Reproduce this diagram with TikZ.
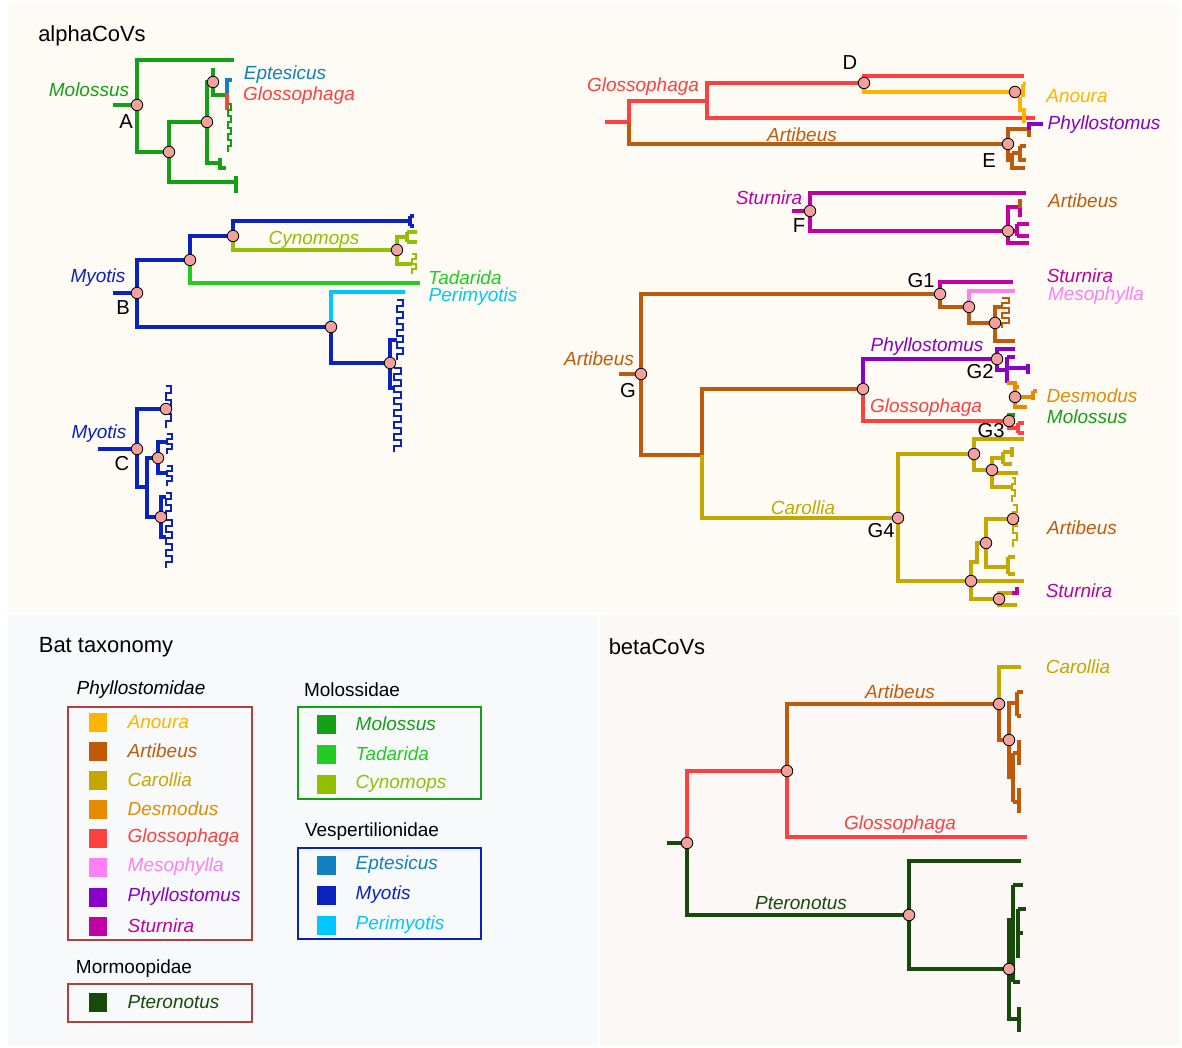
\documentclass[tikz,border=0pt]{standalone}
\usepackage{fontspec}
\setmainfont{Liberation Sans}
\usetikzlibrary{positioning}

\definecolor{anou}{HTML}{FFB400}
\definecolor{arti}{HTML}{C05A0A}
\definecolor{caro}{HTML}{C4A800}
\definecolor{desm}{HTML}{E88A00}
\definecolor{glos}{HTML}{FF4040}
\definecolor{meso}{HTML}{FF80F4}
\definecolor{phyl}{HTML}{8A00C8}
\definecolor{stur}{HTML}{C000A4}
\definecolor{pter}{HTML}{184A0C}
\definecolor{molo}{HTML}{14A014}
\definecolor{tada}{HTML}{22CC22}
\definecolor{cyno}{HTML}{92C000}
\definecolor{epte}{HTML}{1280C0}
\definecolor{myot}{HTML}{0A22C0}
\definecolor{peri}{HTML}{00C8FF}
\definecolor{dotc}{HTML}{F4A09C}
\definecolor{panA}{HTML}{FDFBF4}
\definecolor{panB}{HTML}{F8F9FB}
\definecolor{panC}{HTML}{FBF8F5}
\definecolor{phybox}{HTML}{B04040}

% square-wave tip comb: colour, x, y, width, count, step
\newcommand{\combtip}[6]{%
  \draw[cbr,#1] (#2,#3) \foreach \k in {1,...,#5} { -- ++(#4,0) -- ++(0,#6) -- ++(-#4,0) -- ++(0,#6) };}

\begin{document}
\begin{tikzpicture}[x=0.02cm, y=-0.02cm,
    br/.style={line width=1.95pt},
    cbr/.style={line width=1.6pt},
    dot/.style={circle, draw, fill=dotc, inner sep=0pt, minimum size=2.3mm, line width=0.5pt},
    lab/.style={font=\fontsize{10.8}{13}\selectfont\itshape},
    tag/.style={font=\fontsize{11.5}{13}\selectfont},
    ttl/.style={font=\fontsize{12.5}{15}\selectfont},
    sq/.style={rectangle, inner sep=0pt, minimum size=3.8mm},
    leg/.style={font=\fontsize{10.8}{13}\selectfont\itshape, inner sep=0pt},
    box/.style={line width=0.6pt}]
\useasboundingbox (0,0) rectangle (1182,1047);

% Panels
\fill[panA] (8,4) rectangle (1180,612);
\fill[panB] (8,615) rectangle (598,1045);
\fill[panC] (600,615) rectangle (1180,1045);
\node[ttl] (tA) at (92,36) {alphaCoVs};
\node[ttl] (tB) at (106,647) {Bat taxonomy};
\node[ttl] (tC) at (657,647) {betaCoVs};

% Tree A
\coordinate (A0) at (113,105);
\coordinate (A) at (137,105);
\coordinate (a1) at (169,152);
\coordinate (a2) at (207,122);
\coordinate (a3) at (213,82);
\coordinate (a4) at (227,95);
\coordinate (ta1) at (234,60);
\coordinate (ta2) at (236,182);
\coordinate (ta3) at (220,163);
\draw[br,molo] (A0) -- (A) |- (ta1);
\draw[br,molo] (A) |- (a1);
\draw[br,molo] (a1) |- (a2);
\draw[br,molo] (a1) |- (ta2);
\draw[br,molo] (a2) |- (a3);
\draw[br,molo] (a2) |- (ta3);
\draw[br,molo] (a3) |- (a4);
\draw[br,molo] (a3) -- ++(0,-14);
\draw[br,epte] (232,80) -| (227,93);
\draw[br,glos] (227,93) -- (227,110);
\combtip{molo}{228}{104}{3}{4}{6}
\draw[br,molo] (ta2) ++(0,-6) -- ++(0,17);
\draw[br,molo] (ta3) ++(0,-5) -- ++(0,10) -- ++(6,0);
\node[lab,molo] (lA1) at (89,90) {Molossus};
\node[tag] (lA) at (126,122) {A};
\node[lab,epte] (lA2) at (285,75) {Eptesicus};
\node[lab,glos] (lA3) at (299,96) {Glossophaga};

% Tree B
\coordinate (B0) at (113,293);
\coordinate (B) at (137,293);
\coordinate (b1) at (190,260);
\coordinate (b2) at (233,236);
\coordinate (b3) at (397,250);
\coordinate (b4) at (331,327);
\coordinate (b5) at (390,363);
\coordinate (tb1) at (410,221);
\coordinate (tb2) at (420,283);
\coordinate (tb3) at (405,292);
\draw[br,myot] (B0) -- (B) |- (b1);
\draw[br,myot] (B) |- (b4);
\draw[br,myot] (b1) |- (b2);
\draw[br,tada] (b1) |- (tb2);
\draw[br,myot] (b2) |- (tb1);
\draw[br,cyno] (b2) |- (b3);
\draw[br,peri] (b4) |- (tb3);
\draw[br,myot] (b4) |- (b5);
\draw[br,myot] (410,216) -- (410,226) (410,216) -- (414,216) (410,226) -- (414,226);
\draw[br,cyno] (b3) |- (407,237);
\draw[br,cyno] (b3) |- (412,264);
\draw[br,cyno] (407,232) -- (407,242) (407,232) -- (417,232) (407,242) -- (417,242);
\combtip{cyno}{412}{254}{4}{2}{5}
\draw[br,myot] (b5) |- (397,340);
\draw[br,myot] (b5) |- (394,388);
\combtip{myot}{397}{300}{6}{5}{6}
\combtip{myot}{394}{368}{7}{7}{6}
\node[lab,myot] (lB1) at (98,278) {Myotis};
\node[tag] (lB) at (123,308) {B};
\node[lab,cyno] (lB2) at (314,240) {Cynomops};
\node[lab,tada] (lB3) at (465,278) {Tadarida};
\node[lab,peri] (lB4) at (473,297) {Perimyotis};

% Tree C
\coordinate (C0) at (98,449);
\coordinate (C) at (137,449);
\coordinate (c1) at (166,409);
\coordinate (c2) at (147,487);
\coordinate (c3) at (158,458);
\coordinate (c4) at (161,517);
\draw[br,myot] (C0) -- (C) |- (c1);
\draw[br,myot] (C) |- (c2);
\draw[br,myot] (c2) |- (c3);
\draw[br,myot] (c2) |- (c4);
\combtip{myot}{166}{386}{5}{3}{7}
\draw[br,myot] (c3) |- (167,442);
\draw[br,myot] (c3) |- (167,473);
\combtip{myot}{167}{434}{5}{2}{5}
\combtip{myot}{167}{466}{5}{2}{5}
\draw[br,myot] (c4) |- (166,497);
\draw[br,myot] (c4) |- (166,537);
\combtip{myot}{166}{493}{5}{2}{6}
\combtip{myot}{166}{520}{6}{4}{6}
\node[lab,myot] (lC1) at (99,434) {Myotis};
\node[tag] (lC) at (122,464) {C};

% Tree D / E
\coordinate (D0) at (605,122);
\coordinate (d0) at (629,122);
\coordinate (d1) at (707,101);
\coordinate (D) at (864,83);
\coordinate (d2) at (1015,92);
\coordinate (E) at (1008,144);
\coordinate (td1) at (1035,118);
\coordinate (td2) at (1024,76);
\draw[br,glos] (D0) -- (d0) |- (d1);
\draw[br,arti] (d0) |- (E);
\draw[br,glos] (d1) |- (D);
\draw[br,glos] (d1) |- (td1);
\draw[br,glos] (D) |- (td2);
\draw[br,anou] (D) |- (d2);
\draw[br,anou] (d2) -- (1023,92) (1023,84) -- (1023,97) (1023,84) -- (1026,84)
  (1020,97) -- (1020,110) -- (1024,110) -- (1024,123);
\draw[br,arti] (E) |- (1029,129) -- (1029,137);
\draw[br,phyl] (1029,130) -- (1029,124) -- (1043,124);
\draw[br,arti] (E) |- (1012,160);
\draw[br,arti] (1012,153) -- (1012,168) -- (1025,168) (1012,153) -- (1020,153)
  (1020,146) -- (1020,160) -- (1026,160) (1020,146) -- (1026,146);
\node[tag] (lD) at (850,63) {D};
\node[lab,glos] (lD1) at (643,87) {Glossophaga};
\node[lab,anou] (lD2) at (1077,96) {Anoura};
\node[lab,arti] (lD3) at (802,135) {Artibeus};
\node[lab,phyl] (lD4) at (1104,125) {Phyllostomus};
\node[tag] (lE) at (989,161) {E};

% Tree F
\coordinate (F0) at (792,211);
\coordinate (F) at (810,211);
\coordinate (f1) at (1008,231);
\coordinate (tf1) at (1026,193);
\draw[br,stur] (F0) -- (F) |- (tf1);
\draw[br,stur] (F) |- (f1);
\draw[br,stur] (f1) |- (1013,207);
\draw[br,stur] (1013,207) -| (1020,217);
\draw[br,arti] (1020,199) -- (1020,208);
\draw[br,stur] (f1) |- (1029,243);
\draw[br,stur] (f1) -- (1017,231) (1017,224) -- (1017,236) (1017,224) -- (1029,224) (1017,236) -- (1029,236);
\node[lab,stur] (lF1) at (769,198) {Sturnira};
\node[tag] (lF) at (799,226) {F};
\node[lab,arti] (lF2) at (1083,201) {Artibeus};

% Tree G
\coordinate (G0) at (619,374);
\coordinate (G) at (641,374);
\coordinate (g0) at (702,455);
\coordinate (G1) at (940,294);
\coordinate (g11) at (969,307);
\coordinate (g12) at (995,323);
\coordinate (g2) at (863,389);
\coordinate (G2) at (997,359);
\coordinate (g21) at (1015,397);
\coordinate (G3) at (1009,421);
\coordinate (G4) at (898,518);
\coordinate (g41) at (974,454);
\coordinate (g42) at (992,470);
\coordinate (g43) at (971,581);
\coordinate (g44) at (986,543);
\coordinate (g45) at (1013,519);
\coordinate (g46) at (999,599);
\coordinate (tg1) at (1013,282);
\coordinate (tg2) at (1015,291);
\coordinate (tg3) at (1015,341);
\coordinate (tg4) at (1002,307);
\coordinate (tg5) at (1015,349);
\coordinate (tg6) at (1024,439);
\coordinate (tg7) at (1024,581);
\draw[br,arti] (G0) -- (G) |- (G1);
\draw[br,arti] (G) |- (g0);
\draw[br,arti] (g0) |- (g2);
\draw[br,caro] (g0) |- (G4);
\draw[br,stur] (G1) |- (tg1);
\draw[br,arti] (G1) |- (g11);
\draw[br,meso] (g11) |- (tg2);
\draw[br,arti] (g11) |- (g12);
\draw[br,arti] (g12) |- (tg4);
\draw[br,arti] (g12) |- (tg3);
\combtip{arti}{1002}{298}{7}{3}{5}
\draw[br,phyl] (g2) |- (G2);
\draw[br,glos] (g2) |- (G3);
\draw[br,phyl] (G2) |- (tg5);
\draw[br,phyl] (G2) |- (1007,370) (1007,357) -- (1007,383) (1007,357) -- (1015,357)
  (1007,368) -- (1028,368) (1028,364) -- (1028,374);
\draw[br,desm] (1007,383) -| (g21);
\draw[br,desm] (g21) |- (1019,387);
\draw[br,desm] (g21) |- (1027,407);
\draw[br,desm] (g21) -- (1033,397) (1033,391) -- (1033,400) (1033,391) -- (1037,391);
\draw[br,molo] (G3) -- ++(0,-6) -- ++(6,0);
\draw[br,glos] (G3) |- (1018,428) (1018,423) -- (1018,433) (1018,423) -- (1024,423) (1018,433) -- (1024,433);
\draw[br,caro] (G4) |- (g41);
\draw[br,caro] (G4) |- (g43);
\draw[br,caro] (g41) |- (tg6);
\draw[br,caro] (g41) |- (g42);
\draw[br,caro] (g42) |- (1003,458) (1003,452) -- (1003,464) (1003,452) -- (1012,452)
  (1003,464) -- (1012,464) (1012,447) -- (1012,457);
\draw[br,caro] (g42) |- (1018,473);
\draw[br,caro] (g42) |- (1012,487);
\combtip{caro}{1012}{478}{3}{2}{6}
\draw[br,caro] (g43) |- (977,562) |- (g44);
\draw[br,caro] (g43) |- (tg7);
\draw[br,caro] (g43) |- (g46);
\draw[br,caro] (g44) |- (g45);
\draw[br,caro] (g44) |- (1008,567) (1008,557) -- (1008,574) (1008,557) -- (1015,557) (1008,574) -- (1015,574);
\combtip{caro}{1013}{505}{4}{3}{7}
\draw[br,caro] (g46) |- (1012,593);
\draw[br,stur] (1012,593) -- (1017,593) -- (1017,587);
\draw[br,caro] (g46) |- (1017,605);
\node[lab,arti] (lG1) at (599,359) {Artibeus};
\node[tag] (lG) at (628,391) {G};
\node[tag] (lGa) at (921,281) {G1};
\node[lab,stur] (lG2) at (1080,276) {Sturnira};
\node[lab,meso] (lG3) at (1096,296) {Mesophylla};
\node[lab,phyl] (lG4) at (927,347) {Phyllostomus};
\node[tag] (lGb) at (980,372) {G2};
\node[lab,desm] (lG5) at (1092,396) {Desmodus};
\node[lab,glos] (lG6) at (926,408) {Glossophaga};
\node[lab,molo] (lG7) at (1087,417) {Molossus};
\node[tag] (lGc) at (991,431) {G3};
\node[lab,caro] (lG8) at (803,508) {Carollia};
\node[tag] (lGd) at (881,531) {G4};
\node[lab,arti] (lG9) at (1082,528) {Artibeus};
\node[lab,stur] (lG10) at (1079,591) {Sturnira};

% betaCoVs tree
\coordinate (R0) at (667,843);
\coordinate (R) at (687,843);
\coordinate (r1) at (787,771);
\coordinate (r2) at (999,704);
\coordinate (r3) at (1009,740);
\coordinate (p1) at (909,915);
\coordinate (p2) at (1009,969);
\coordinate (tr1) at (1027,837);
\coordinate (tr2) at (1021,667);
\coordinate (tp1) at (1021,861);
\draw[br,pter] (R0) -- (R) |- (p1);
\draw[br,glos] (R) |- (r1);
\draw[br,arti] (r1) |- (r2);
\draw[br,glos] (r1) |- (tr1);
\draw[br,caro] (r2) |- (tr2);
\draw[br,arti] (r2) |- (r3);
\draw[br,arti] (r3) |- (1017,703) (1017,692) -- (1017,716) (1017,692) -- (1023,692) (1017,716) -- (1021,716);
\draw[br,arti] (r3) |- (1013,777) (1013,753) -- (1013,802) (1013,753) -- (1019,753)
  (1019,740) -- (1019,765) (1013,802) -- (1019,802) (1019,788) -- (1019,813);
\draw[br,pter] (p1) |- (tp1);
\draw[br,pter] (p1) |- (p2);
\draw[br,pter] (p2) |- (1013,920) (1013,885) -- (1013,982) (1013,885) -- (1023,885) (1013,982) -- (1020,982)
  (1018,909) -- (1018,958) (1018,909) -- (1026,909) (1018,933) -- (1023,933);
\draw[br,pter] (p2) |- (1019,1019) (1019,1007) -- (1019,1032);
\node[lab,caro] (lR1) at (1078,667) {Carollia};
\node[lab,arti] (lR2) at (900,692) {Artibeus};
\node[lab,glos] (lR3) at (900,825) {Glossophaga};
\node[lab,pter] (lR4) at (801,903) {Pteronotus};

% Dots on the nodes
\foreach \n in {A,a1,a2,a3,B,b1,b2,b3,b4,b5,C,c1,c3,c4,D,d2,E,F,f1,G,G1,g11,g12,g2,G2,g21,G3,G4,g41,g42,g43,g44,g45,g46,R,r1,r2,r3,p1,p2}
  \node[dot] at (\n) {};

% Legend
\node[leg] (hPhy) at (141,690) {Phyllostomidae};
\draw[box, phybox] (68,707) rectangle (252,940);
\foreach \nm/\cl/\yy in {Anoura/anou/722, Artibeus/arti/751, Carollia/caro/780, Desmodus/desm/809,
    Glossophaga/glos/838, Mesophylla/meso/867, Phyllostomus/phyl/897, Sturnira/stur/926}{
  \node[sq, fill=\cl] (s\nm) at (98,\yy) {};
  \node[leg, text=\cl, right=3.9mm of s\nm] (l\nm) {\nm};
}
\node[leg, font=\fontsize{10.8}{13}\selectfont] (hMor) at (134,969) {Mormoopidae};
\draw[box, phybox] (68,984) rectangle (252,1022);
\node[sq, fill=pter] (sPteronotus) at (98,1002) {};
\node[leg, text=pter, right=3.9mm of sPteronotus] (lPteronotus) {Pteronotus};

\node[leg, font=\fontsize{10.8}{13}\selectfont] (hMol) at (352,690) {Molossidae};
\draw[box, molo] (298,707) rectangle (481,799);
\foreach \nm/\cl/\yy in {Molossus/molo/724, Tadarida/tada/754, Cynomops/cyno/784}{
  \node[sq, fill=\cl] (s\nm) at (326,\yy) {};
  \node[leg, text=\cl, right=3.9mm of s\nm] (l\nm) {\nm};
}
\node[leg, font=\fontsize{10.8}{13}\selectfont] (hVes) at (372,832) {Vespertilionidae};
\draw[box, myot] (298,848) rectangle (481,939);
\foreach \nm/\cl/\yy in {Eptesicus/epte/865, Myotis/myot/895, Perimyotis/peri/925}{
  \node[sq, fill=\cl] (s\nm) at (326,\yy) {};
  \node[leg, text=\cl, right=3.9mm of s\nm] (l\nm) {\nm};
}
\end{tikzpicture}
\end{document}
